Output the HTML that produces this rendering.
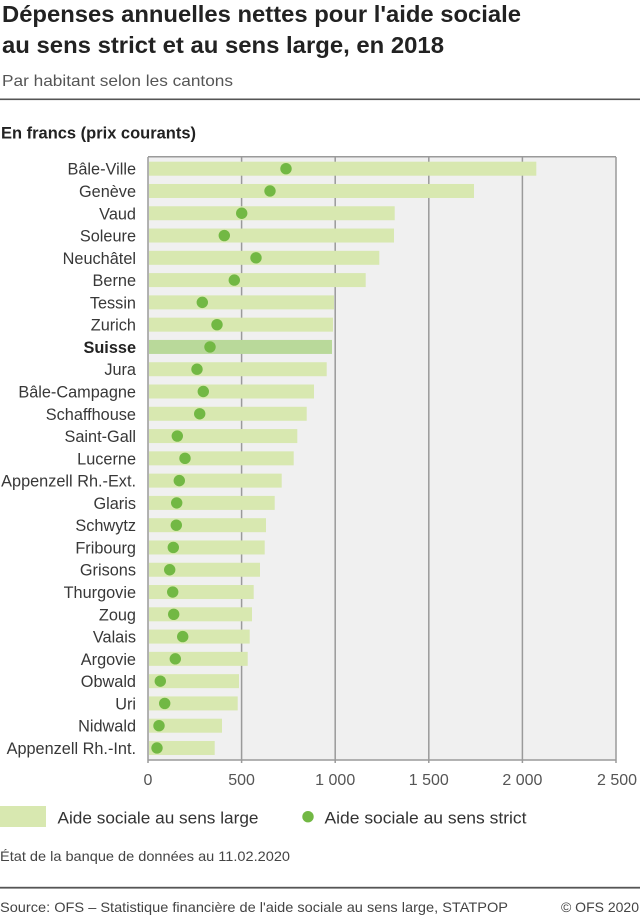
<!DOCTYPE html>
<html><head><meta charset="utf-8">
<style>
html,body{margin:0;padding:0;background:#fff;}
svg{display:block;}
text{font-family:"Liberation Sans",Arial,sans-serif;}
</style></head>
<body>
<svg width="640" height="918" viewBox="0 0 640 918" xmlns="http://www.w3.org/2000/svg">
<!-- Title -->
<text x="2" y="22" font-size="23" font-weight="bold" fill="#222" textLength="519" lengthAdjust="spacingAndGlyphs">Dépenses annuelles nettes pour l'aide sociale</text>
<text x="2" y="53" font-size="23" font-weight="bold" fill="#222" textLength="442" lengthAdjust="spacingAndGlyphs">au sens strict et au sens large, en 2018</text>
<text x="2" y="86" font-size="16" fill="#555" textLength="231" lengthAdjust="spacingAndGlyphs">Par habitant selon les cantons</text>
<rect x="0" y="98.5" width="640" height="1.6" fill="#555"/>
<text x="1" y="138.5" font-size="16.5" font-weight="bold" fill="#222" textLength="195" lengthAdjust="spacingAndGlyphs">En francs (prix courants)</text>

<!-- Plot background -->
<rect x="148" y="156.7" width="468" height="603.3" fill="#f0f0f0"/>
<!-- grid -->
<g stroke="#9a9a9a" stroke-width="1.5">
<line x1="241.6" y1="157" x2="241.6" y2="763"/>
<line x1="335.2" y1="157" x2="335.2" y2="763"/>
<line x1="428.8" y1="157" x2="428.8" y2="763"/>
<line x1="522.4" y1="157" x2="522.4" y2="763"/>
<line x1="616" y1="157" x2="616" y2="763"/>
<line x1="148" y1="157" x2="148" y2="763"/>
<line x1="148" y1="156.7" x2="616" y2="156.7"/>
<line x1="148" y1="760" x2="616" y2="760"/>
</g>

<!-- bars -->
<g fill="#d8e8b0">
<rect x="149" y="161.7" width="387.3" height="14"/>
<rect x="149" y="183.98" width="325" height="14"/>
<rect x="149" y="206.26" width="245.7" height="14"/>
<rect x="149" y="228.54" width="245" height="14"/>
<rect x="149" y="250.82" width="230.3" height="14"/>
<rect x="149" y="273.1" width="216.7" height="14"/>
<rect x="149" y="295.38" width="185" height="14"/>
<rect x="149" y="317.66" width="184" height="14"/>
<rect x="149" y="339.94" width="183" height="14" fill="#b9d99a"/>
<rect x="149" y="362.22" width="177.7" height="14"/>
<rect x="149" y="384.5" width="165" height="14"/>
<rect x="149" y="406.78" width="157.7" height="14"/>
<rect x="149" y="429.06" width="148.3" height="14"/>
<rect x="149" y="451.34" width="144.7" height="14"/>
<rect x="149" y="473.62" width="132.7" height="14"/>
<rect x="149" y="495.9" width="125.7" height="14"/>
<rect x="149" y="518.18" width="117" height="14"/>
<rect x="149" y="540.46" width="115.7" height="14"/>
<rect x="149" y="562.74" width="111" height="14"/>
<rect x="149" y="585.02" width="104.7" height="14"/>
<rect x="149" y="607.3" width="103" height="14"/>
<rect x="149" y="629.58" width="100.7" height="14"/>
<rect x="149" y="651.86" width="98.7" height="14"/>
<rect x="149" y="674.14" width="90" height="14"/>
<rect x="149" y="696.42" width="88.7" height="14"/>
<rect x="149" y="718.7" width="73" height="14"/>
<rect x="149" y="740.98" width="65.7" height="14"/>
</g>

<!-- dots -->
<g fill="#72b844">
<circle cx="286" cy="168.7" r="5.7"/>
<circle cx="270" cy="190.98" r="5.7"/>
<circle cx="241.7" cy="213.26" r="5.7"/>
<circle cx="224.3" cy="235.54" r="5.7"/>
<circle cx="256" cy="257.82" r="5.7"/>
<circle cx="234.3" cy="280.1" r="5.7"/>
<circle cx="202.3" cy="302.38" r="5.7"/>
<circle cx="217" cy="324.66" r="5.7"/>
<circle cx="210" cy="346.94" r="5.7"/>
<circle cx="197" cy="369.22" r="5.7"/>
<circle cx="203.3" cy="391.5" r="5.7"/>
<circle cx="199.7" cy="413.78" r="5.7"/>
<circle cx="177.3" cy="436.06" r="5.7"/>
<circle cx="185" cy="458.34" r="5.7"/>
<circle cx="179.3" cy="480.62" r="5.7"/>
<circle cx="176.7" cy="502.9" r="5.7"/>
<circle cx="176.3" cy="525.18" r="5.7"/>
<circle cx="173.3" cy="547.46" r="5.7"/>
<circle cx="169.7" cy="569.74" r="5.7"/>
<circle cx="172.7" cy="592.02" r="5.7"/>
<circle cx="173.7" cy="614.3" r="5.7"/>
<circle cx="182.7" cy="636.58" r="5.7"/>
<circle cx="175.3" cy="658.86" r="5.7"/>
<circle cx="160.3" cy="681.14" r="5.7"/>
<circle cx="164.7" cy="703.42" r="5.7"/>
<circle cx="159" cy="725.7" r="5.7"/>
<circle cx="157" cy="747.98" r="5.7"/>
</g>

<!-- category labels -->
<g font-size="16.3" fill="#383838" text-anchor="end">
<text x="136" y="174.7">Bâle-Ville</text>
<text x="136" y="196.98">Genève</text>
<text x="136" y="219.26">Vaud</text>
<text x="136" y="241.54">Soleure</text>
<text x="136" y="263.82">Neuchâtel</text>
<text x="136" y="286.1">Berne</text>
<text x="136" y="308.38">Tessin</text>
<text x="136" y="330.66">Zurich</text>
<text x="136" y="352.94" font-weight="bold" fill="#222">Suisse</text>
<text x="136" y="375.22">Jura</text>
<text x="136" y="397.5">Bâle-Campagne</text>
<text x="136" y="419.78">Schaffhouse</text>
<text x="136" y="442.06">Saint-Gall</text>
<text x="136" y="464.34">Lucerne</text>
<text x="136" y="486.62">Appenzell Rh.-Ext.</text>
<text x="136" y="508.9">Glaris</text>
<text x="136" y="531.18">Schwytz</text>
<text x="136" y="553.46">Fribourg</text>
<text x="136" y="575.74">Grisons</text>
<text x="136" y="598.02">Thurgovie</text>
<text x="136" y="620.3">Zoug</text>
<text x="136" y="642.58">Valais</text>
<text x="136" y="664.86">Argovie</text>
<text x="136" y="687.14">Obwald</text>
<text x="136" y="709.42">Uri</text>
<text x="136" y="731.7">Nidwald</text>
<text x="136" y="753.98">Appenzell Rh.-Int.</text>
</g>

<!-- x tick labels -->
<g font-size="16" fill="#555" text-anchor="middle">
<text x="148" y="785">0</text>
<text x="241.6" y="785">500</text>
<text x="335.2" y="785">1 000</text>
<text x="428.8" y="785">1 500</text>
<text x="522.4" y="785">2 000</text>
<text x="617" y="785">2 500</text>
</g>

<!-- legend -->
<rect x="0" y="806" width="46" height="21" fill="#d8e8b0"/>
<text x="57.5" y="823.3" font-size="17" fill="#333" textLength="201" lengthAdjust="spacingAndGlyphs">Aide sociale au sens large</text>
<circle cx="308" cy="816.7" r="5.7" fill="#72b844"/>
<text x="324.5" y="823.3" font-size="17" fill="#333" textLength="202" lengthAdjust="spacingAndGlyphs">Aide sociale au sens strict</text>

<text x="0" y="861" font-size="14" fill="#444" textLength="290" lengthAdjust="spacingAndGlyphs">État de la banque de données au 11.02.2020</text>
<rect x="0" y="886.8" width="640" height="1.8" fill="#555"/>
<text x="0" y="912" font-size="14" fill="#444" textLength="508" lengthAdjust="spacingAndGlyphs">Source: OFS – Statistique financière de l'aide sociale au sens large, STATPOP</text>
<text x="639" y="912" font-size="14" fill="#444" text-anchor="end">© OFS 2020</text>
</svg>
</body></html>
